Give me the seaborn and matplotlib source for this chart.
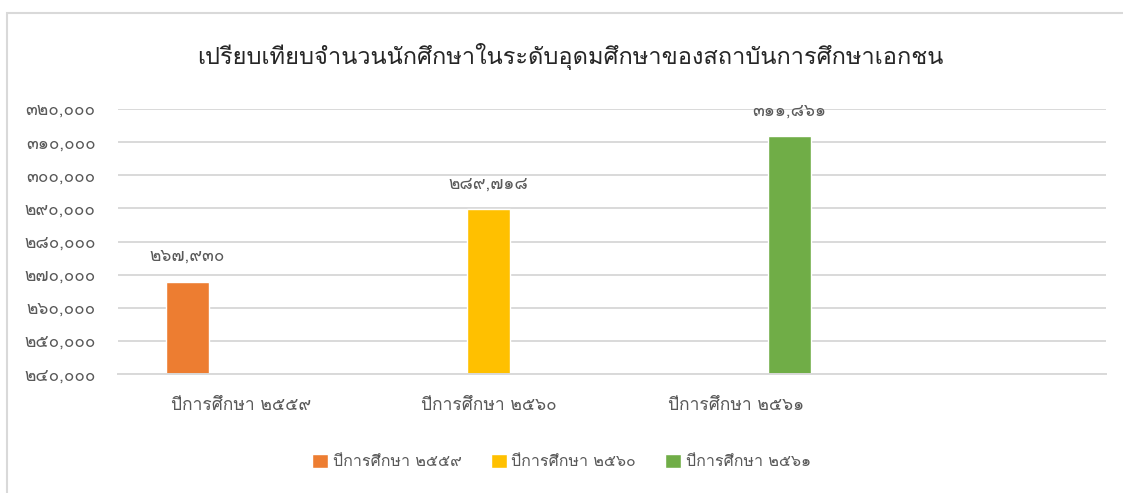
import matplotlib
matplotlib.use("Agg")
import matplotlib.pyplot as plt
from matplotlib import font_manager
from matplotlib.ft2font import FT2Font
from matplotlib.patches import Rectangle
import pandas as pd
import seaborn as sns

# Data
categories = ["ปีการศึกษา ๒๕๕๙", "ปีการศึกษา ๒๕๖๐", "ปีการศึกษา ๒๕๖๑"]
series = ["ปีการศึกษา ๒๕๕๙", "ปีการศึกษา ๒๕๖๐", "ปีการศึกษา ๒๕๖๑"]
students = [267930, 289718, 311861]
colors = ["#ED7D31", "#FFC000", "#70AD47"]
y_ticks = [240000, 250000, 260000, 270000, 280000, 290000, 300000, 310000, 320000]
title = "เปรียบเทียบจำนวนนักศึกษาในระดับอุดมศึกษาของสถาบันการศึกษาเอกชน"

THAI_DIGITS = str.maketrans("0123456789", "๐๑๒๓๔๕๖๗๘๙")


def thai_num(v):
    return f"{int(round(v)):,}".translate(THAI_DIGITS)


# find an installed family that has Thai glyphs
def find_thai_family():
    found = []
    for f in font_manager.fontManager.ttflist:
        try:
            cmap = FT2Font(f.fname).get_charmap()
        except Exception:
            continue
        if 0x0E01 in cmap and 0x0E52 in cmap:
            found.append(f.name)
    return found


thai_fams = find_thai_family()

sns.set_theme(style="white")
plt.rcParams["font.family"] = list(dict.fromkeys(thai_fams)) + ["DejaVu Sans"]

df = pd.DataFrame({"cat": categories, "series": series, "value": students})

fig = plt.figure(figsize=(11.23, 4.93), dpi=100)
ax = fig.add_axes([0.105, 0.241, 0.88, 0.538])

sns.barplot(
    data=df, x="cat", y="value", hue="series", hue_order=series,
    order=categories, palette=colors, width=0.657, gap=0.2, dodge=True,
    saturation=1, ax=ax, legend=True,
)
ax.set_xlim(-0.5, 3.5)
ax.set_ylim(240000, 320000)
ax.set_yticks(y_ticks)
ax.set_yticklabels([thai_num(t) for t in y_ticks])
ax.yaxis.grid(True, color="#D9D9D9", lw=1.4)
ax.set_axisbelow(True)
for s in ["top", "right", "left"]:
    ax.spines[s].set_visible(False)
ax.spines["bottom"].set_color("#D9D9D9")
ax.spines["bottom"].set_linewidth(1.4)
ax.tick_params(axis="both", length=0, colors="#595959")
ax.tick_params(axis="y", labelsize=12.5, pad=16)
ax.tick_params(axis="x", labelsize=12.5, pad=17)
ax.set_xlabel("")
ax.set_ylabel("")

for cont in ax.containers:
    ax.bar_label(cont, labels=[thai_num(b.get_height()) for b in cont],
                 padding=12, fontsize=12.5, color="#595959", clip_on=False)

fig.suptitle(title, x=0.508, y=0.912, fontsize=17, color="#262626")

sns.move_legend(ax, "center", bbox_to_anchor=(0.5, 0.063),
                bbox_transform=fig.transFigure, ncol=3, frameon=False,
                title=None, fontsize=11.5, handlelength=1.0, handleheight=1.0,
                columnspacing=1.8, handletextpad=0.3)
for t in ax.get_legend().get_texts():
    t.set_color("#595959")

# chart frame
fig.patches.append(Rectangle((6.5 / 1123, -0.1), 1.1, 1 - 13.5 / 493 + 0.1,
                             transform=fig.transFigure, fill=False,
                             edgecolor="#D9D9D9", lw=1.5))

fig.savefig("out.png", dpi=100)
